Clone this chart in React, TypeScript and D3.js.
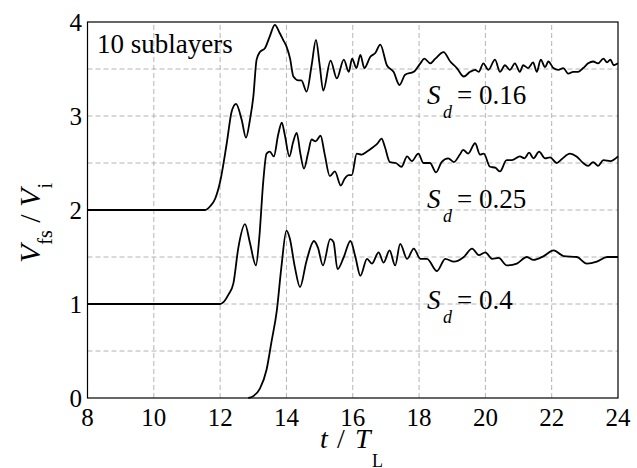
import React from "react";
import * as d3 from "d3";

const X_TICKS = [8, 10, 12, 14, 16, 18, 20, 22, 24];
const Y_TICKS = [0, 1, 2, 3, 4];
const X_GRID = [10, 12, 14, 16, 18, 20, 22];
const Y_GRID = [0.5, 1, 1.5, 2, 2.5, 3, 3.5];

const T_016 = [8, 11.55, 11.7, 11.85, 12.0, 12.2, 12.35, 12.48, 12.65, 12.78, 12.9, 13.0, 13.1, 13.2, 13.35, 13.5, 13.65, 13.8, 13.9, 14.0, 14.11, 14.21, 14.36, 14.45, 14.61, 14.76, 14.89, 15.0, 15.11, 15.33, 15.52, 15.73, 15.88, 15.98, 16.11, 16.23, 16.35, 16.53, 16.68, 16.83, 17.03, 17.23, 17.41, 17.58, 17.84, 18.04, 18.16, 18.34, 18.49, 18.74, 18.94, 19.14, 19.35, 19.54, 19.69, 19.8, 19.94, 20.09, 20.29, 20.44, 20.59, 20.74, 20.89, 21.04, 21.14, 21.29, 21.44, 21.55, 21.67, 21.8, 21.9, 22.05, 22.2, 22.35, 22.5, 22.65, 22.8, 22.95, 23.1, 23.25, 23.4, 23.56, 23.67, 23.77, 23.87, 24];
const V_016 = [2, 2, 2.04, 2.12, 2.3, 2.71, 3.05, 3.13, 2.96, 2.77, 2.96, 3.2, 3.6, 3.68, 3.72, 3.85, 3.97, 3.88, 3.81, 3.74, 3.61, 3.42, 3.38, 3.38, 3.26, 3.54, 3.81, 3.55, 3.27, 3.59, 3.4, 3.6, 3.47, 3.61, 3.51, 3.65, 3.51, 3.63, 3.67, 3.76, 3.54, 3.47, 3.33, 3.44, 3.47, 3.56, 3.61, 3.56, 3.61, 3.68, 3.58, 3.51, 3.42, 3.47, 3.49, 3.47, 3.56, 3.49, 3.6, 3.47, 3.54, 3.49, 3.56, 3.47, 3.54, 3.51, 3.57, 3.47, 3.6, 3.52, 3.58, 3.51, 3.49, 3.51, 3.45, 3.47, 3.47, 3.51, 3.56, 3.58, 3.56, 3.61, 3.57, 3.6, 3.54, 3.56];

const T_025 = [8, 12.0, 12.1, 12.25, 12.4, 12.55, 12.75, 12.9, 13.08, 13.18, 13.3, 13.4, 13.5, 13.62, 13.75, 13.86, 13.95, 14.09, 14.2, 14.31, 14.42, 14.53, 14.65, 14.76, 14.88, 15.03, 15.15, 15.31, 15.46, 15.64, 15.75, 15.88, 15.97, 16.12, 16.27, 16.42, 16.62, 16.75, 16.87, 16.97, 17.12, 17.3, 17.47, 17.64, 17.78, 17.98, 18.13, 18.33, 18.51, 18.68, 18.88, 19.05, 19.23, 19.33, 19.48, 19.69, 19.84, 19.95, 20.14, 20.3, 20.44, 20.64, 20.8, 21.04, 21.18, 21.32, 21.45, 21.62, 21.8, 21.95, 22.15, 22.3, 22.55, 22.75, 22.95, 23.1, 23.25, 23.4, 23.56, 23.77, 24];
const V_025 = [1, 1, 1.02, 1.1, 1.22, 1.6, 1.85, 1.65, 1.41, 1.7, 2.3, 2.6, 2.62, 2.57, 2.8, 2.93, 2.8, 2.57, 2.72, 2.82, 2.6, 2.44, 2.6, 2.75, 2.73, 2.79, 2.6, 2.36, 2.41, 2.26, 2.33, 2.37, 2.37, 2.6, 2.59, 2.62, 2.67, 2.71, 2.76, 2.67, 2.51, 2.5, 2.46, 2.57, 2.52, 2.6, 2.5, 2.5, 2.4, 2.51, 2.55, 2.51, 2.59, 2.64, 2.6, 2.71, 2.59, 2.6, 2.46, 2.45, 2.41, 2.53, 2.53, 2.57, 2.55, 2.61, 2.55, 2.62, 2.55, 2.56, 2.5, 2.54, 2.6, 2.57, 2.5, 2.47, 2.51, 2.47, 2.53, 2.52, 2.57];

const T_04 = [12.85, 13.0, 13.2, 13.4, 13.55, 13.71, 13.85, 14.0, 14.1, 14.25, 14.41, 14.6, 14.83, 14.95, 15.1, 15.32, 15.42, 15.54, 15.73, 15.93, 16.08, 16.23, 16.43, 16.58, 16.78, 16.93, 17.11, 17.28, 17.43, 17.64, 17.84, 18.04, 18.24, 18.54, 18.79, 19.05, 19.35, 19.6, 19.8, 20.0, 20.2, 20.4, 20.65, 20.95, 21.25, 21.45, 21.76, 22.06, 22.36, 22.76, 23.06, 23.36, 23.67, 24];
const V_04 = [0, 0.02, 0.1, 0.3, 0.6, 0.93, 1.4, 1.78, 1.7, 1.4, 1.18, 1.45, 1.67, 1.6, 1.41, 1.69, 1.66, 1.37, 1.5, 1.67, 1.5, 1.3, 1.48, 1.43, 1.55, 1.44, 1.57, 1.41, 1.64, 1.48, 1.59, 1.48, 1.48, 1.35, 1.48, 1.45, 1.5, 1.59, 1.52, 1.55, 1.48, 1.49, 1.41, 1.43, 1.5, 1.47, 1.51, 1.57, 1.51, 1.5, 1.43, 1.45, 1.5, 1.5];

const SERIES = [
  { t: T_016, v: V_016 },
  { t: T_025, v: V_025 },
  { t: T_04, v: V_04 },
];

const LABELS = [
  { value: "0.16", y: 3.13 },
  { value: "0.25", y: 2.02 },
  { value: "0.4", y: 0.95 },
];

const W = 637;
const H = 468;
const FONT = "Liberation Serif";

export default function App() {
  const x = d3.scaleLinear().domain([8, 24]).range([87.5, 618]);
  const y = d3.scaleLinear().domain([0, 4]).range([398, 22]);
  const line = d3
    .line<[number, number]>()
    .x((d) => x(d[0]))
    .y((d) => y(d[1]))
    .curve(d3.curveMonotoneX);

  const T = (props: any) => (
    <text style={{ fontFamily: FONT }} fill="#000" {...props} />
  );

  return (
    <svg
      width={W}
      height={H}
      style={{ position: "absolute", left: 0, top: 0, background: "#fff", fontFamily: FONT }}
    >
      <rect x={0} y={0} width={W} height={H} fill="#fff" />
      {X_GRID.map((g) => (
        <line key={"gx" + g} x1={x(g)} x2={x(g)} y1={y(0)} y2={y(4)} stroke="#b4b4b4" strokeWidth={1} strokeDasharray="5,3" />
      ))}
      {Y_GRID.map((g) => (
        <line key={"gy" + g} x1={x(8)} x2={x(24)} y1={y(g)} y2={y(g)} stroke="#b4b4b4" strokeWidth={1} strokeDasharray="5,3" />
      ))}
      {SERIES.map((s, i) => (
        <path
          key={i}
          d={line(s.t.map((t, j) => [t, s.v[j]] as [number, number])) || ""}
          fill="none"
          stroke="#000"
          strokeWidth={1.8}
          strokeLinejoin="round"
        />
      ))}
      <rect x={x(8)} y={y(4)} width={x(24) - x(8)} height={y(0) - y(4)} fill="none" stroke="#000" strokeWidth={1.2} />
      {X_TICKS.map((t) => (
        <T key={"xt" + t} x={x(t)} y={426} textAnchor="middle" fontSize={25}>
          {String(t)}
        </T>
      ))}
      {Y_TICKS.map((t) => (
        <T key={"yt" + t} x={82} y={y(t)} dy="0.35em" textAnchor="end" fontSize={25}>
          {String(t)}
        </T>
      ))}
      <T x={97} y={53} fontSize={27}>10 sublayers</T>
      {LABELS.map((l) => (
        <g key={l.value}>
          <T x={427} y={y(l.y)} fontSize={27} fontStyle="italic">S</T>
          <T x={443} y={y(l.y) + 14} fontSize={18} fontStyle="italic">d</T>
          <T x={457} y={y(l.y)} fontSize={27}>{"= " + l.value}</T>
        </g>
      ))}
      <T x={320} y={448} fontSize={28} fontStyle="italic">t</T>
      <T x={337} y={448} fontSize={28}>/</T>
      <T x={355} y={448} fontSize={28} fontStyle="italic">T</T>
      <T x={372} y={467} fontSize={18}>L</T>
      <T transform="translate(40,223) rotate(-90)" textAnchor="middle" fontSize={30}>
        <tspan fontStyle="italic">V</tspan>
        <tspan fontSize={20} dy={12}>fs</tspan>
        <tspan dy={-12}> / </tspan>
        <tspan fontStyle="italic">V</tspan>
        <tspan fontSize={20} dy={12}>i</tspan>
      </T>
    </svg>
  );
}
